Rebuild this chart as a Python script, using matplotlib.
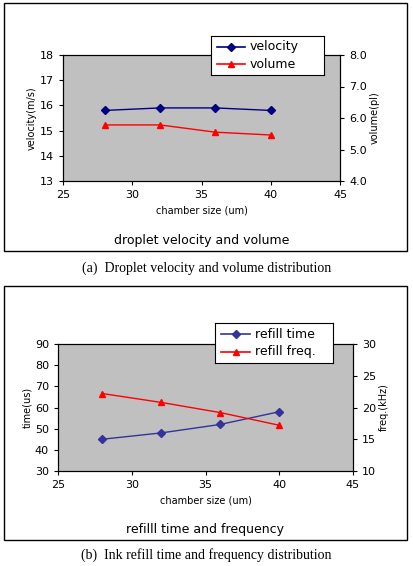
import matplotlib.pyplot as plt
from matplotlib.patches import Rectangle
from matplotlib.lines import Line2D

chamber = [28, 32, 36, 40]
velocity = [15.8, 15.9, 15.9, 15.8]
volume = [5.78, 5.78, 5.55, 5.46]
refill_time = [45, 48, 52, 58]
refill_freq = [22.2, 20.8, 19.2, 17.2]

W, H = 413, 566
fig = plt.figure(figsize=(W / 100, H / 100), dpi=100)
plt.rcParams['font.family'] = 'DejaVu Sans'

def frac(x0, y0, x1, y1):
    return [x0 / W, 1 - y1 / H, (x1 - x0) / W, (y1 - y0) / H]

for x0, y0, x1, y1 in [(4, 3, 407, 251), (4, 286, 407, 540)]:
    l, b, w, h = frac(x0, y0, x1, y1)
    fig.patches.append(Rectangle((l, b), w, h, transform=fig.transFigure,
                                 fill=False, edgecolor='black', lw=1))

def panel(rect, y1, y2, lab1, lab2, yl1, yt1, yl2, yt2, fmt2, title, caption, cap_y,
          leg_rect, tity, c1):
    ax = fig.add_axes(frac(*rect))
    ax.set_facecolor('#c0c0c0')
    ax.plot(chamber, y1, color=c1, marker='D', ms=4, lw=1)
    ax.set_xlim(25, 45)
    ax.set_xticks([25, 30, 35, 40, 45])
    ax.set_ylim(*yl1)
    ax.set_yticks(yt1)
    ax.tick_params(labelsize=8, length=3)
    ax.set_xlabel('chamber size (um)', fontsize=7)
    ax.set_ylabel(lab2[2], fontsize=7, labelpad=2)
    ax2 = ax.twinx()
    ax2.plot(chamber, y2, color='red', marker='^', ms=5, lw=1)
    ax2.set_ylim(*yl2)
    ax2.set_yticks(yt2)
    ax2.set_yticklabels([fmt2 % v for v in yt2])
    ax2.tick_params(labelsize=8, length=3)
    ax2.set_ylabel(lab2[1], fontsize=7, labelpad=2)
    fig.text(0.5 * (rect[0] + rect[2]) / W, 1 - tity / H, title, ha='center', va='center', fontsize=9)
    fig.text(0.5, 1 - cap_y / H, caption, ha='center', va='center', fontsize=10,
             family='Liberation Serif')
    lax = fig.add_axes(frac(*leg_rect))
    lax.set_xticks([]); lax.set_yticks([])
    lax.set_xlim(0, 1); lax.set_ylim(0, 1)
    lax.add_line(Line2D([0.05, 0.3], [0.72, 0.72], color=c1, lw=1.2))
    lax.add_line(Line2D([0.05, 0.3], [0.28, 0.28], color='red', lw=1.2))
    lax.plot([0.175], [0.72], 'D', color=c1, ms=4)
    lax.plot([0.175], [0.28], '^', color='red', ms=5)
    lax.text(0.34, 0.72, lab1, va='center', fontsize=9)
    lax.text(0.34, 0.28, lab2[0], va='center', fontsize=9)

panel((63, 55, 340, 181), velocity, volume, 'velocity', ('volume', 'volume(pl)', 'velocity(m/s)'),
      (13, 18), [13, 14, 15, 16, 17, 18], (4, 8), [4, 5, 6, 7, 8], '%.1f',
      'droplet velocity and volume',
      '(a)  Droplet velocity and volume distribution', 268, (211, 36, 324, 75), 241, '#000080')
panel((58, 344, 353, 471), refill_time, refill_freq, 'refill time', ('refill freq.', 'freq.(kHz)', 'time(us)'),
      (30, 90), [30, 40, 50, 60, 70, 80, 90], (10, 30), [10, 15, 20, 25, 30], '%d',
      'refilll time and frequency',
      '(b)  Ink refill time and frequency distribution', 555, (215, 323, 333, 363), 530, '#333399')

fig.savefig('out.png', dpi=100)
